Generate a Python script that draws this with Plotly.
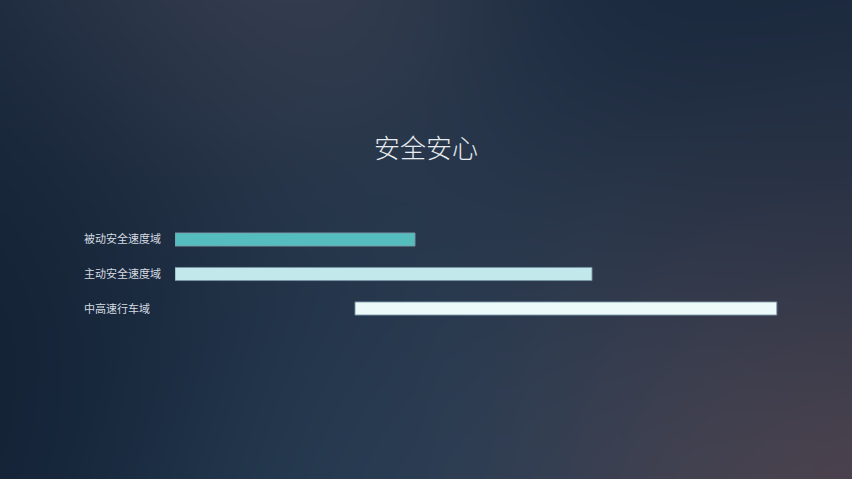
import base64, struct, zlib
import numpy as np
import plotly.graph_objects as go

# ---- data ----
categories = ["被动安全速度域", "主动安全速度域", "中高速行车域"]
range_start = [0, 0, 30]
range_end = [40, 69.5, 100.3]
bar_colors = ["#56BDBE", "#C3E8EC", "#ECFAFA"]
title_text = "安全安心"

W, H = 852, 479

# ---- background gradient image (style only) ----
def make_png(arr):
    h, w, _ = arr.shape
    raw = b"".join(b"\x00" + arr[r].tobytes() for r in range(h))
    def chunk(tag, data):
        c = struct.pack(">I", len(data)) + tag + data
        return c + struct.pack(">I", zlib.crc32(tag + data) & 0xffffffff)
    png = b"\x89PNG\r\n\x1a\n"
    png += chunk(b"IHDR", struct.pack(">IIBBBBB", w, h, 8, 2, 0, 0, 0))
    png += chunk(b"IDAT", zlib.compress(raw, 9))
    png += chunk(b"IEND", b"")
    return "data:image/png;base64," + base64.b64encode(png).decode()

sw, sh = 284, 160
xs = np.linspace(0, W, sw)[None, :]
ys = np.linspace(0, H, sh)[:, None]
base = np.array([28, 44, 64], float)
blobs = [
    (270, 0, 150, (76, 76, 92)),
    (0, 340, 190, (14, 26, 44)),
    (720, 30, 200, (19, 35, 57)),
    (330, 479, 170, (40, 66, 92)),
    (610, 400, 180, (66, 72, 90)),
    (840, 479, 170, (104, 76, 80)),
    (852, 210, 150, (44, 54, 72)),
    (420, 250, 160, (34, 54, 76)),
    (100, 140, 150, (26, 42, 62)),
]
w0 = 0.35
num = np.zeros((sh, sw, 3)) + base * w0
den = np.zeros((sh, sw)) + w0
for bx, by, s, c in blobs:
    g = np.exp(-((xs - bx) ** 2 + (ys - by) ** 2) / (2 * s * s))
    num += g[:, :, None] * np.array(c, float)
    den += g
img = np.clip(num / den[:, :, None], 0, 255).astype(np.uint8)
bg_src = make_png(img)

# ---- figure ----
fig = go.Figure()
fig.add_trace(go.Bar(
    y=categories,
    x=[e - s for s, e in zip(range_start, range_end)],
    base=range_start,
    orientation="h",
    width=0.38,
    marker=dict(color=bar_colors, line=dict(color="rgba(120,150,165,0.9)", width=1)),
    hoverinfo="skip",
))

for cat in categories:
    fig.add_annotation(
        x=82 / W, xref="paper", xanchor="left",
        y=cat, yref="y", yanchor="middle", yshift=1,
        text=cat, showarrow=False,
        font=dict(family="Noto Sans CJK SC", size=11, color="#D5DCE3"),
    )

fig.add_annotation(
    x=0.5, xref="paper", y=(H - 146) / H, yref="paper",
    xanchor="center", yanchor="middle",
    text=title_text, showarrow=False,
    font=dict(family="Noto Sans CJK SC", size=26, color="#E6ECF0", weight=200),
)

fig.update_layout(
    width=W, height=H,
    margin=dict(l=0, r=0, t=0, b=0),
    paper_bgcolor="#1C2C40",
    plot_bgcolor="rgba(0,0,0,0)",
    showlegend=False,
    images=[dict(source=bg_src, xref="paper", yref="paper", x=0, y=1,
                 sizex=1, sizey=1, sizing="stretch", xanchor="left", yanchor="top",
                 layer="below")],
    xaxis=dict(domain=[175 / W, 781 / W], range=[0, 101], visible=False,
               fixedrange=True),
    yaxis=dict(domain=[(H - 325.75) / H, (H - 222.25) / H], range=[2.5, -0.5],
               visible=False, fixedrange=True, type="category"),
    bargap=0.62,
)

fig.write_html("out.html", config={"displayModeBar": False},
               post_script="document.body.style.margin='0';document.body.style.overflow='hidden';")
